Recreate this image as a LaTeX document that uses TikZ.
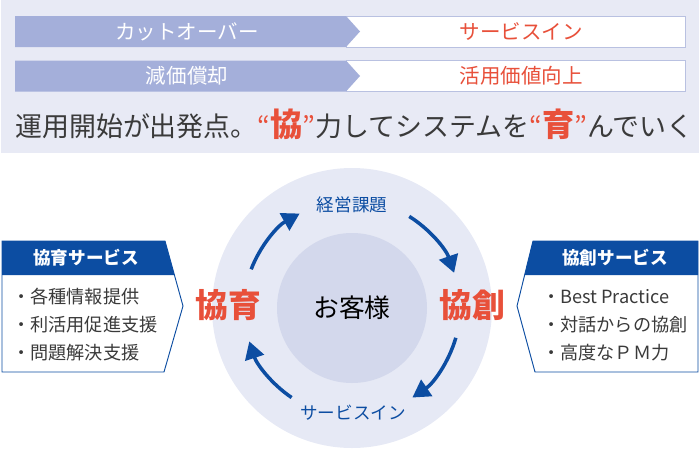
\documentclass[tikz,border=0pt]{standalone}
\usepackage{fontspec}
\setmainfont{Noto Sans CJK JP}
\usepackage{xcolor}
\usepackage{tikz}
\usetikzlibrary{arrows.meta}
\definecolor{panelbg}{HTML}{E8EAF5}
\definecolor{bandblue}{HTML}{A4AFDA}
\definecolor{boxedge}{HTML}{B9C1E1}
\definecolor{redx}{HTML}{E8503A}
\definecolor{navy}{HTML}{0C4DA2}
\definecolor{ringbg}{HTML}{E6E9F5}
\definecolor{corebg}{HTML}{D3D8EC}
\definecolor{inkgray}{HTML}{3A3A3A}
\tikzset{
  cyc/.style={-{Triangle[length=5.2mm,width=5.8mm]},line width=3pt,navy},
  bandtxt/.style={font=\fontsize{17.5}{20}\selectfont,inner sep=0pt},
  headtxt/.style={font=\fontsize{15}{18}\selectfont\bfseries,white,inner sep=0pt},
  item/.style={anchor=west,font=\fontsize{15.5}{18}\selectfont,inkgray,inner sep=0pt},
  duo/.style={font=\fontsize{28}{32}\selectfont\bfseries,redx,inner sep=0pt},
  stage/.style={font=\fontsize{15}{18}\selectfont,navy,inner sep=0pt},
  svcbox/.style={draw=navy,fill=white,line width=0.8pt}
}

\begin{document}
\begin{tikzpicture}[x=0.3mm,y=0.3mm]
\useasboundingbox (0,0) rectangle (700,452);
\fill[panelbg] (1,299) rectangle (699,452);
\foreach \yc/\lt/\rt/\nm in {420.5/カットオーバー/サービスイン/a,376/減価償却/活用価値向上/b}{
  \draw[boxedge,fill=white,line width=0.8pt] (346,\yc-15.5) rectangle (685,\yc+15.5);
  \fill[bandblue] (15,\yc-15.5) -- (346,\yc-15.5) -- (360,\yc) -- (346,\yc+15.5) -- (15,\yc+15.5) -- cycle;
  \node[bandtxt,white] (old-\nm) at (187,\yc) {\lt};
  \node[bandtxt,redx] (new-\nm) at (521,\yc) {\rt};
}
\node[anchor=base west,inner sep=0pt,inkgray,font=\fontsize{23}{27}\selectfont] (motto) at (15,316)
  {運用開始が出発点。{\color{redx}“{\fontsize{27.5}{31}\selectfont\bfseries 協}”}力してシステムを{\color{redx}“{\fontsize{27.5}{31}\selectfont\bfseries 育}”}んでいく};

\coordinate (hub) at (352,144);
\fill[ringbg] (hub) circle[radius=140];
\fill[corebg] (hub) circle[radius=75];
\node[font=\fontsize{22}{26}\selectfont,inner sep=0pt] (client) at (hub) {お客様};
\node[duo] (kyoiku) at (228,147) {協育};
\node[duo] (kyoso) at (472,147) {協創};
\node[stage] (issue) at (352,247) {経営課題};
\node[stage] (launch) at (353,39) {サービスイン};
\draw[cyc] ([shift={(159:108)}]hub) arc[start angle=159,end angle=119,radius=108];
\draw[cyc] ([shift={(58:108)}]hub) arc[start angle=58,end angle=19,radius=108];
\draw[cyc] ([shift={(-16:108)}]hub) arc[start angle=-16,end angle=-56,radius=108];
\draw[cyc] ([shift={(-124:108)}]hub) arc[start angle=-124,end angle=-162,radius=108];

\draw[svcbox] (2,211) -- (165,211) -- (183,146) -- (164,80) -- (2,80) -- cycle;
\fill[navy] (2,211) -- (165,211) -- (174.4,177) -- (2,177) -- cycle;
\node[headtxt] (lefthead) at (86,194) {協育サービス};
\node[item] (l1) at (12,155) {・各種情報提供};
\node[item] (l2) at (12,127) {・利活用促進支援};
\node[item] (l3) at (12,99) {・問題解決支援};

\draw[svcbox] (698,211) -- (533,211) -- (517,146) -- (535,80) -- (698,80) -- cycle;
\fill[navy] (698,211) -- (533,211) -- (524.6,177) -- (698,177) -- cycle;
\node[headtxt] (righthead) at (615,194) {協創サービス};
\node[item] (r1) at (542,155) {・Best Practice};
\node[item] (r2) at (542,127) {・対話からの協創};
\node[item] (r3) at (542,99) {・高度なＰＭ力};
\end{tikzpicture}
\end{document}
